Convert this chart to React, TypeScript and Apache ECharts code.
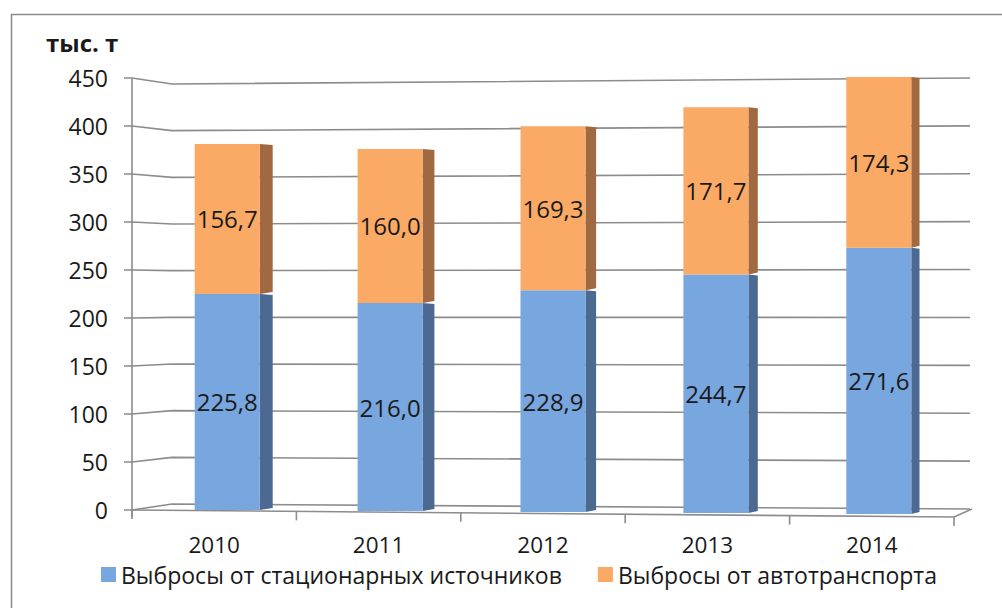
import React, { useEffect, useRef } from "react";
import * as echarts from "echarts";

const years = ["2010", "2011", "2012", "2013", "2014"];
const stationary = [225.8, 216.0, 228.9, 244.7, 271.6];
const transport = [156.7, 160.0, 169.3, 171.7, 174.3];
const yTicks = [0, 50, 100, 150, 200, 250, 300, 350, 400, 450];
const seriesNames = ["Выбросы от стационарных источников", "Выбросы от автотранспорта"];
const unitLabel = "тыс. т";

const FONT = "'Open Sans', sans-serif";
const TEXT = "#1a1a1a";
const GRID = "#8c8c8c";
const fronts = ["#78A6DE", "#FAAA64"];
const sides = ["#4B6991", "#A06941"];

const fmt = (v: number) => v.toFixed(1).replace(".", ",");

function renderWalls(_p: any, api: any) {
  const n = years.length;
  const band = api.size([1, 0])[0];
  const xL = api.coord([0, 0])[0] - band / 2;
  const xR = api.coord([n - 1, 0])[0] + band / 2;
  const y0 = api.coord([0, 0])[1];
  const yTop = api.coord([0, yTicks[yTicks.length - 1]])[1];
  const span = y0 - yTop;
  const children: any[] = [];
  const line = (pts: number[][]) => ({
    type: "polyline",
    shape: { points: pts },
    style: { stroke: GRID, lineWidth: 1.6, fill: null },
    silent: true,
  });
  yTicks.forEach((v) => {
    const yF = api.coord([0, v])[1];
    const d = yF - y0;
    const yBL = y0 - 6 + (d * (span - 12)) / span;
    const yBR = y0 - 1 + (d * (span - 1)) / span;
    children.push(line([[xL - 8, yF], [xL, yF], [xL + 40, yBL], [xR + 16, yBR]]));
  });
  children.push(line([[xL, yTop], [xL, y0 + 7]]));
  children.push(line([[xL, y0], [xR, y0 + 7], [xR + 18, y0 - 1]]));
  for (let k = 0; k <= n; k++) {
    const x = xL + k * band;
    const yy = y0 + (7 * k) / n;
    children.push(line([[x, yy], [x, yy + 9]]));
  }
  return { type: "group", children };
}

function renderBars(layer: number) {
  return (_p: any, api: any) => {
    const i = api.value(0);
    const s = api.value(1);
    const e = api.value(2);
    const c = api.coord([i, 0]);
    const base = c[1] + i;
    const k = 0.997 + 0.006 * i;
    const ys = base - (c[1] - api.coord([i, s])[1]) * k;
    const ye = base - (c[1] - api.coord([i, e])[1]) * k;
    const w = 65;
    const cx = c[0] + 13 - 1.5 * i;
    const sw = 13 - 1.2 * i;
    const x1 = cx - w / 2;
    const x2 = cx + w / 2;
    return {
      type: "group",
      children: [
        {
          type: "polygon",
          shape: { points: [[x2, ye], [x2 + sw, ye + 1], [x2 + sw, ys - 2], [x2, ys]] },
          style: { fill: sides[layer] },
        },
        {
          type: "rect",
          shape: { x: x1, y: ye, width: w, height: ys - ye },
          style: { fill: fronts[layer] },
        },
        {
          type: "text",
          x: cx,
          y: (ys + ye) / 2,
          style: {
            text: fmt(e - s),
            fill: TEXT,
            font: `24px ${FONT}`,
            align: "center",
            verticalAlign: "middle",
          },
        },
      ],
    };
  };
}

export default function App() {
  const ref = useRef<HTMLDivElement>(null);
  useEffect(() => {
    document.body.style.margin = "0";
    const chart = echarts.init(ref.current!, undefined, { renderer: "svg" });
    const layers = [stationary, transport];
    let acc = years.map(() => 0);
    const series: any[] = [
      {
        type: "custom",
        name: "walls",
        renderItem: renderWalls,
        data: [[0, 0]],
        silent: true,
        z: 1,
      },
    ];
    layers.forEach((vals, li) => {
      const data = vals.map((v, i) => [i, acc[i], acc[i] + v]);
      acc = acc.map((a, i) => a + vals[i]);
      series.push({
        type: "custom",
        name: seriesNames[li],
        renderItem: renderBars(li),
        data,
        itemStyle: { color: fronts[li] },
        encode: { x: 0, y: 2 },
        z: 3,
      });
    });
    chart.setOption({
      animation: false,
      grid: { left: 132, right: 48, top: 78, bottom: 98 },
      xAxis: {
        type: "category",
        data: years,
        axisLine: { show: false },
        axisTick: { show: false },
        axisLabel: { fontSize: 22.5, color: TEXT, fontFamily: FONT, margin: 23 },
      },
      yAxis: {
        type: "value",
        min: 0,
        max: 450,
        interval: 50,
        axisLine: { show: false },
        axisTick: { show: false },
        splitLine: { show: false },
        axisLabel: { fontSize: 23, color: TEXT, fontFamily: FONT, margin: 24 },
      },
      legend: {
        data: seriesNames,
        left: 101,
        top: 563,
        padding: 0,
        icon: "rect",
        itemWidth: 15,
        itemHeight: 15,
        itemGap: 36,
        itemStyle: { borderWidth: 0 },
        textStyle: { fontSize: 23, color: TEXT, fontFamily: FONT },
      },
      graphic: [
        {
          type: "rect",
          left: 9,
          top: 12,
          shape: { width: 1010, height: 620 },
          style: { fill: "none", stroke: "#8a8a8a", lineWidth: 1.5 },
          silent: true,
        },
        {
          type: "text",
          left: 46,
          top: 30,
          style: { text: unitLabel, font: `bold 24px ${FONT}`, fill: TEXT },
        },
      ],
      series,
    });
    return () => chart.dispose();
  }, []);
  return (
    <div
      ref={ref}
      style={{ position: "absolute", left: 0, top: 0, width: 1002, height: 608 }}
    />
  );
}
